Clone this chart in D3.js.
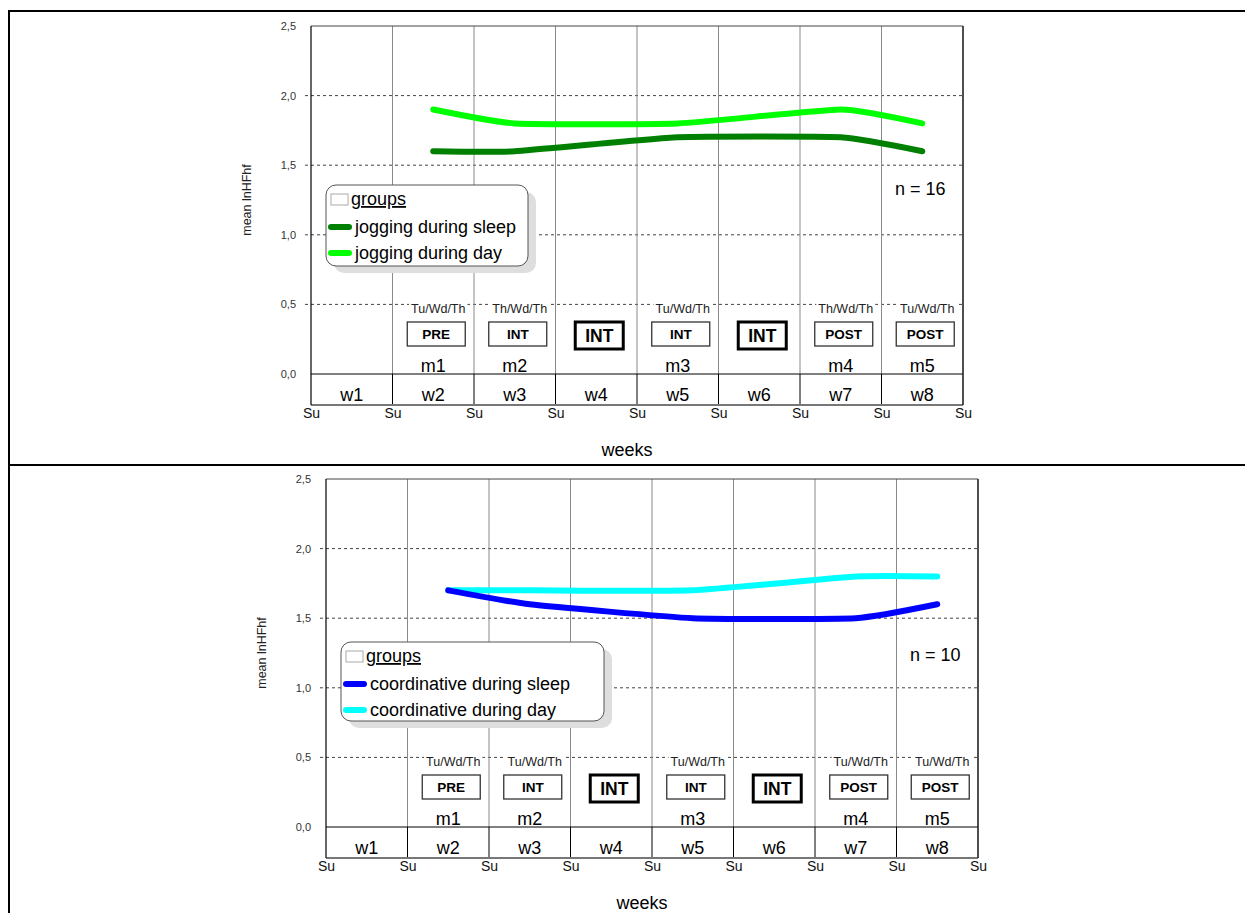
<!DOCTYPE html>
<html>
<head>
<meta charset="utf-8">
<script src="https://cdn.jsdelivr.net/npm/d3@7"></script>
<style>
  body { margin: 0; background: #fff; }
  text { font-family: Arial, "Liberation Sans", sans-serif; }
</style>
</head>
<body>
<div id="chart"></div>
<script>
var weeks = ['w1', 'w2', 'w3', 'w4', 'w5', 'w6', 'w7', 'w8'];
var sundayLabels = ['Su', 'Su', 'Su', 'Su', 'Su', 'Su', 'Su', 'Su', 'Su'];
var yTicks = [0, 0.5, 1.0, 1.5, 2.0, 2.5];
var measureWeeks = ['w2', 'w3', 'w5', 'w7', 'w8'];
var measureLabels = ['m1', 'm2', 'm3', 'm4', 'm5'];
var sessionWeeks = ['w2', 'w3', 'w4', 'w5', 'w6', 'w7', 'w8'];
var sessionLabels = ['PRE', 'INT', 'INT', 'INT', 'INT', 'POST', 'POST'];
var daysJogging = ['Tu/Wd/Th', 'Th/Wd/Th', 'Tu/Wd/Th', 'Th/Wd/Th', 'Tu/Wd/Th'];
var daysCoordinative = ['Tu/Wd/Th', 'Tu/Wd/Th', 'Tu/Wd/Th', 'Tu/Wd/Th', 'Tu/Wd/Th'];

var joggingSleep = [1.6, 1.6, 1.7, 1.7, 1.6];
var joggingDay = [1.9, 1.8, 1.8, 1.9, 1.8];
var coordinativeSleep = [1.7, 1.6, 1.5, 1.5, 1.6];
var coordinativeDay = [1.7, 1.7, 1.7, 1.8, 1.8];

var width = 652,
  height = 348,
  rowH = 31;

var svg = d3.select('#chart')
  .append('svg')
  .attr('width', 1245)
  .attr('height', 913);

// outer table frame
svg.append('line').attr('x1', 9).attr('x2', 1245).attr('y1', 11).attr('y2', 11)
  .attr('stroke', '#000').attr('stroke-width', 2);
svg.append('line').attr('x1', 9).attr('x2', 1245).attr('y1', 465).attr('y2', 465)
  .attr('stroke', '#000').attr('stroke-width', 2);
svg.append('line').attr('x1', 9).attr('x2', 9).attr('y1', 10).attr('y2', 913)
  .attr('stroke', '#000').attr('stroke-width', 2);

var x = d3.scaleBand().domain(weeks).range([0, width]);
var su = d3.scaleLinear().domain([0, 8]).range([0, width]);
var y = d3.scaleLinear().domain([0, 2.5]).range([height, 0]);

var panels = [
  {
    left: 311, top: 26,
    days: daysJogging,
    n: 'n = 16', nX: 584, nY: 169,
    legend: { x: 15, y: 159, w: 202, h: 81 },
    series: [
      { name: 'jogging during sleep', values: joggingSleep, color: '#008000' },
      { name: 'jogging during day', values: joggingDay, color: '#00ff00' }
    ]
  },
  {
    left: 326, top: 479,
    days: daysCoordinative,
    n: 'n = 10', nX: 584, nY: 182,
    legend: { x: 15, y: 163, w: 263, h: 79 },
    series: [
      { name: 'coordinative during sleep', values: coordinativeSleep, color: '#0000ff' },
      { name: 'coordinative during day', values: coordinativeDay, color: '#00ffff' }
    ]
  }
];

var cx = function(w) {
  return x(w) + x.bandwidth() / 2;
};

var drawPanel = function(p) {
  var g = svg.append('g').attr('transform', 'translate(' + p.left + ',' + p.top + ')');

  // dashed horizontal grid
  g.selectAll('.grid')
    .data(yTicks.filter(function(t) { return t > 0 && t < 2.5; }))
    .enter().append('line')
    .attr('x1', -6).attr('x2', width)
    .attr('y1', function(d) { return y(d); })
    .attr('y2', function(d) { return y(d); })
    .attr('stroke', '#444').attr('stroke-width', 1)
    .attr('stroke-dasharray', '3,3');

  // week separators
  var inner = d3.range(1, 8);
  g.selectAll('.vgrid').data(inner).enter().append('line')
    .attr('x1', function(d) { return su(d); }).attr('x2', function(d) { return su(d); })
    .attr('y1', 0).attr('y2', height)
    .attr('stroke', '#8a8a8a').attr('stroke-width', 1);
  g.selectAll('.vrow').data(inner).enter().append('line')
    .attr('x1', function(d) { return su(d); }).attr('x2', function(d) { return su(d); })
    .attr('y1', height).attr('y2', height + rowH)
    .attr('stroke', '#000').attr('stroke-width', 1);

  // borders
  g.append('line').attr('x1', 0).attr('x2', width).attr('y1', 0).attr('y2', 0)
    .attr('stroke', '#444').attr('stroke-width', 1);
  g.append('line').attr('x1', 0).attr('x2', width).attr('y1', height).attr('y2', height)
    .attr('stroke', '#000').attr('stroke-width', 1);
  g.append('line').attr('x1', 0).attr('x2', width).attr('y1', height + rowH).attr('y2', height + rowH)
    .attr('stroke', '#777').attr('stroke-width', 2);
  g.append('line').attr('x1', 0).attr('x2', 0).attr('y1', 0).attr('y2', height + rowH)
    .attr('stroke', '#000').attr('stroke-width', 1.2);
  g.append('line').attr('x1', width).attr('x2', width).attr('y1', 0).attr('y2', height + rowH)
    .attr('stroke', '#222').attr('stroke-width', 1.6);

  // y axis labels
  var yAxis = g.append('g')
    .call(d3.axisLeft(y).tickValues(yTicks).tickSize(0).tickPadding(15)
      .tickFormat(function(d) { return d3.format('.1f')(d).replace('.', ','); }));
  yAxis.select('.domain').remove();
  yAxis.selectAll('text').attr('font-size', 11).attr('fill', '#333')
    .attr('font-family', 'Arial, "Liberation Sans", sans-serif');

  g.append('text')
    .attr('transform', 'translate(-60,' + (height / 2) + ') rotate(-90)')
    .attr('text-anchor', 'middle')
    .attr('font-size', 12.5)
    .attr('fill', '#222')
    .text('mean lnHFhf');

  // Su labels
  var xAxis = g.append('g')
    .attr('transform', 'translate(0,' + (height + rowH) + ')')
    .call(d3.axisBottom(su).tickValues(d3.range(9)).tickSize(0).tickPadding(3)
      .tickFormat(function(d, i) { return sundayLabels[i]; }));
  xAxis.select('.domain').remove();
  xAxis.selectAll('text').attr('font-size', 14).attr('fill', '#111')
    .attr('font-family', 'Arial, "Liberation Sans", sans-serif');

  g.append('text')
    .attr('x', width / 2 - 10).attr('y', height + 82)
    .attr('text-anchor', 'middle')
    .attr('font-size', 18)
    .text('weeks');

  // week names
  g.selectAll('.wk').data(weeks).enter().append('text')
    .attr('x', function(d) { return cx(d); })
    .attr('y', height + 27)
    .attr('text-anchor', 'middle')
    .attr('font-size', 18)
    .text(function(d) { return d; });

  // session boxes
  sessionWeeks.forEach(function(w, i) {
    var measured = measureWeeks.indexOf(w) >= 0;
    var bx = cx(w) + 3;
    if (measured) {
      g.append('rect')
        .attr('x', bx - 29).attr('y', 296).attr('width', 58).attr('height', 24)
        .attr('fill', '#fff').attr('stroke', '#333').attr('stroke-width', 1.3);
      g.append('text')
        .attr('x', bx).attr('y', 313)
        .attr('text-anchor', 'middle')
        .attr('font-size', 13.5).attr('font-weight', 'bold')
        .text(sessionLabels[i]);
    } else {
      g.append('rect')
        .attr('x', bx - 24).attr('y', 296).attr('width', 48).attr('height', 27)
        .attr('fill', '#fff').attr('stroke', '#000').attr('stroke-width', 3);
      g.append('text')
        .attr('x', bx).attr('y', 316)
        .attr('text-anchor', 'middle')
        .attr('font-size', 17.5).attr('font-weight', 'bold')
        .text(sessionLabels[i]);
    }
  });

  // measurement days and labels
  measureWeeks.forEach(function(w, i) {
    var t = g.append('text')
      .attr('x', cx(w) + 5).attr('y', 287)
      .attr('text-anchor', 'middle')
      .attr('font-size', 12.5)
      .attr('fill', '#222')
      .text(p.days[i]);
    var tw = t.node().getComputedTextLength();
    g.insert('rect', function() { return t.node(); })
      .attr('x', cx(w) + 5 - tw / 2 - 2).attr('y', 277)
      .attr('width', tw + 4).attr('height', 12)
      .attr('fill', '#fff');
    g.append('text')
      .attr('x', cx(w)).attr('y', 346)
      .attr('text-anchor', 'middle')
      .attr('font-size', 18)
      .text(measureLabels[i]);
  });

  // series lines (day drawn first, sleep on top)
  var line = d3.line()
    .x(function(d, i) { return cx(measureWeeks[i]); })
    .y(function(d) { return y(d); })
    .curve(d3.curveCardinal.tension(0.55));
  p.series.slice().reverse().forEach(function(s) {
    g.append('path')
      .datum(s.values)
      .attr('d', line)
      .attr('fill', 'none')
      .attr('stroke', s.color)
      .attr('stroke-width', 6)
      .attr('stroke-linecap', 'round')
      .attr('stroke-linejoin', 'round');
  });

  // legend
  var L = p.legend;
  var lg = g.append('g').attr('transform', 'translate(' + L.x + ',' + L.y + ')');
  lg.append('rect')
    .attr('x', 8).attr('y', 7).attr('width', L.w).attr('height', L.h)
    .attr('rx', 10).attr('fill', '#dedede');
  lg.append('rect')
    .attr('x', 0).attr('y', 0).attr('width', L.w).attr('height', L.h)
    .attr('rx', 10).attr('fill', '#fff').attr('stroke', '#555').attr('stroke-width', 1);
  lg.append('rect')
    .attr('x', 5).attr('y', 9).attr('width', 17).attr('height', 11)
    .attr('fill', '#fff').attr('stroke', '#aaa').attr('stroke-width', 1);
  lg.append('text')
    .attr('x', 25).attr('y', 20)
    .attr('font-size', 18)
    .attr('text-decoration', 'underline')
    .text('groups');
  p.series.forEach(function(s, i) {
    var ly = 42 + i * 26;
    lg.append('line')
      .attr('x1', 5).attr('x2', 23).attr('y1', ly).attr('y2', ly)
      .attr('stroke', s.color).attr('stroke-width', 6).attr('stroke-linecap', 'round');
    lg.append('text')
      .attr('x', 29).attr('y', ly + 6)
      .attr('font-size', 18)
      .text(s.name);
  });

  g.append('text')
    .attr('x', p.nX).attr('y', p.nY)
    .attr('font-size', 18)
    .text(p.n);
};

panels.forEach(function(p) {
  drawPanel(p);
});
</script>
</body>
</html>
